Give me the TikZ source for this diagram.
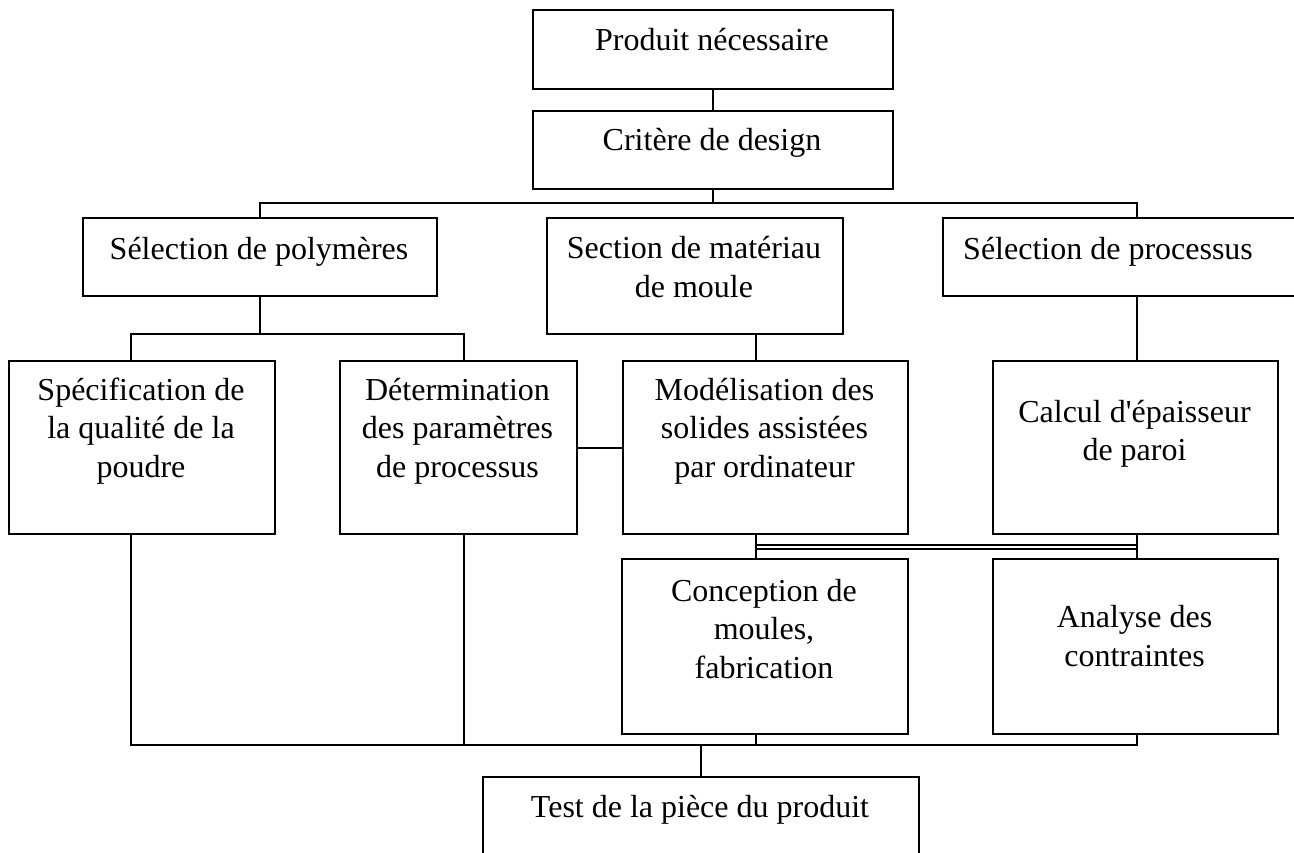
\documentclass[tikz,border=0pt]{standalone}
\usepackage{fontspec}
\setmainfont{Liberation Serif}
\newfontfamily\plainrm{Liberation Serif}
\usetikzlibrary{calc}
\tikzset{
  box/.style={draw=black, line width=1.8pt, rectangle, inner sep=0pt, anchor=north west},
  txt/.style={inner sep=0pt, align=center, font=\plainrm\fontsize{32}{38.5}\selectfont},
  conn/.style={draw=black, line width=1.5pt}
}
\begin{document}
\begin{tikzpicture}[x=1pt,y=-1pt]
\useasboundingbox (0,0) rectangle (1294,852);
\clip (0,0) rectangle (1294,852);
\fill[white] (0,0) rectangle (1294,852);
% boxes
\node[box, minimum width=360pt, minimum height=79pt] (p) at (532,9) {};
\node[box, minimum width=360pt, minimum height=78pt] (c) at (532,110) {};
\node[box, minimum width=354pt, minimum height=78pt] (s1) at (82,217) {};
\node[box, minimum width=296pt, minimum height=116pt] (s2) at (546,217) {};
\node[box, minimum width=380pt, minimum height=78pt] (s3) at (942,217) {};
\node[box, minimum width=266pt, minimum height=173pt] (a) at (8,360) {};
\node[box, minimum width=237pt, minimum height=173pt] (b) at (339,360) {};
\node[box, minimum width=285pt, minimum height=173pt] (m) at (622,360) {};
\node[box, minimum width=285pt, minimum height=173pt] (w) at (992,360) {};
\node[box, minimum width=286pt, minimum height=175pt] (c2) at (621,558) {};
\node[box, minimum width=285pt, minimum height=175pt] (an) at (992,558) {};
\node[box, minimum width=436pt, minimum height=100pt] (t) at (482,776) {};
% texts
\node[txt] (tp) at (712,40) {Produit nécessaire};
\node[txt] (tc) at (712,143) {Critère de design};
\node[txt] (ts1) at (259,252) {Sélection de polymères};
\node[txt] (ts2) at (694,267) {Section de matériau\\de moule};
\node[txt, anchor=west] (ts3) at (963,252) {Sélection de processus};
\node[txt] (ta) at (141,431) {Spécification de\\la qualité de la\\poudre};
\node[txt] (tb) at (457.5,431) {Détermination\\des paramètres\\de processus};
\node[txt] (tm) at (764.5,431) {Modélisation des\\solides assistées\\par ordinateur};
\node[txt] (tw) at (1134.5,434) {Calcul d'épaisseur\\de paroi};
\node[txt] (tc2) at (764,629) {Conception de\\moules,\\fabrication};
\node[txt] (tan) at (1134.5,636) {Analyse des\\contraintes};
\node[txt] (tt) at (700,810) {Test de la pièce du produit};
% helper coordinates
\coordinate (yTop) at (0,203);
\coordinate (ySub) at (0,334);
\coordinate (yBM) at (0,448);
\coordinate (yD1) at (0,545);
\coordinate (yD2) at (0,549);
\coordinate (yBot) at (0,745);
\coordinate (xA) at (131,0);
\coordinate (xB) at (464,0);
\coordinate (xC) at (756,0);
\coordinate (xR) at (1137,0);
\coordinate (xT) at (701,0);
% connectors
\draw[conn] (p.south) -- (c.north);
\draw[conn] (c.south) -- (c.south |- yTop);
\draw[conn] (s1.north) -- (s1.north |- yTop) -- (xR |- yTop) -- (s3.north -| xR);
\draw[conn] (s1.south) -- (s1.south |- ySub);
\draw[conn] (a.north -| xA) -- (xA |- ySub) -- (xB |- ySub) -- (b.north -| xB);
\draw[conn] (b.east |- yBM) -- (m.west |- yBM);
\draw[conn] (s2.south -| xC) -- (m.north -| xC);
\draw[conn] (s3.south -| xR) -- (w.north -| xR);
\draw[conn] (m.south -| xC) -- (c2.north -| xC);
\draw[conn] (w.south -| xR) -- (an.north -| xR);
\draw[conn] (xC |- yD1) -- (xR |- yD1);
\draw[conn] (xC |- yD2) -- (xR |- yD2);
\draw[conn] (a.south -| xA) -- (xA |- yBot) -- (xR |- yBot) -- (an.south -| xR);
\draw[conn] (b.south -| xB) -- (xB |- yBot);
\draw[conn] (c2.south -| xC) -- (xC |- yBot);
\draw[conn] (xT |- yBot) -- (t.north -| xT);
\end{tikzpicture}
\end{document}
